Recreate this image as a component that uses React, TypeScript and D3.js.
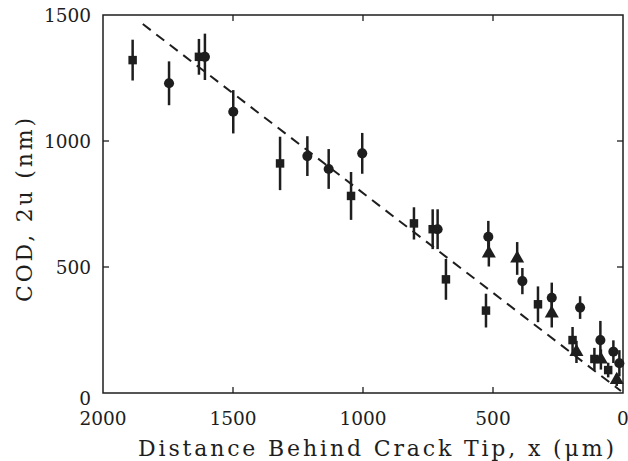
import { useEffect, useRef } from "react";
import * as d3 from "d3";

// [distance (um), COD (nm), error half-height (nm)]
const squares: [number, number, number][] = [
    [1886, 1321, 81],
    [1631, 1334, 71],
    [1319, 911, 106],
    [1046, 782, 95],
    [804, 673, 64],
    [732, 650, 79],
    [681, 451, 81],
    [527, 327, 67],
    [327, 352, 71],
    [194, 210, 52],
    [110, 135, 44],
    [57, 91, 29],
];

const circles: [number, number, number][] = [
    [1746, 1229, 87],
    [1608, 1334, 92],
    [1499, 1116, 86],
    [1214, 940, 79],
    [1132, 889, 79],
    [1003, 951, 81],
    [713, 650, 79],
    [518, 620, 63],
    [387, 444, 52],
    [274, 378, 60],
    [165, 339, 45],
    [87, 210, 76],
    [37, 164, 45],
    [14, 118, 52],
];

const triangles: [number, number, number][] = [
    [516, 554, 52],
    [407, 534, 65],
    [274, 316, 56],
    [179, 163, 44],
    [85, 133, 40],
    [24, 52, 24],
];

const fitLine: [number, number][] = [
    [1847, 1464],
    [8, 8],
];

const xTicks = [2000, 1500, 1000, 500, 0];
const yTicks = [0, 500, 1000, 1500];

const xTitle = "Distance Behind Crack Tip, x (\u03bcm)";
const yTitle = "COD, 2u (nm)";

export default function App() {
    const svgRef = useRef<SVGSVGElement>(null);

    const width = 628;
    const height = 461;
    const left = 103;
    const right = 623;
    const top = 15;
    const bottom = 393;
    const ink = "#1e1e1e";
    const font = "'DejaVu Serif', serif";

    useEffect(() => {
        const svg = d3.select(svgRef.current);
        svg.selectAll("*").remove();

        const x = d3.scaleLinear([2000, 0], [left, right]);
        const y = d3.scaleLinear([0, 1500], [bottom, top]);

        // frame
        svg.append("rect")
            .attr("x", left)
            .attr("y", top)
            .attr("width", right - left)
            .attr("height", bottom - top)
            .attr("fill", "none")
            .attr("stroke", ink)
            .attr("stroke-width", 1.5);

        // inward ticks on all four sides
        const tl = 6;
        const innerX = xTicks.filter((d) => d !== 0 && d !== 2000);
        const innerY = yTicks.filter((d) => d !== 0 && d !== 1500);
        const ticks = svg.append("g").attr("stroke", ink).attr("stroke-width", 1.3);
        ticks.selectAll(".xb")
            .data(innerX)
            .join("line")
            .attr("x1", (d) => x(d))
            .attr("x2", (d) => x(d))
            .attr("y1", bottom)
            .attr("y2", bottom - tl);
        ticks.selectAll(".xt")
            .data(innerX)
            .join("line")
            .attr("x1", (d) => x(d))
            .attr("x2", (d) => x(d))
            .attr("y1", top)
            .attr("y2", top + tl);
        ticks.selectAll(".yl")
            .data(innerY)
            .join("line")
            .attr("x1", left)
            .attr("x2", left + tl)
            .attr("y1", (d) => y(d))
            .attr("y2", (d) => y(d));
        ticks.selectAll(".yr")
            .data(innerY)
            .join("line")
            .attr("x1", right)
            .attr("x2", right - tl)
            .attr("y1", (d) => y(d))
            .attr("y2", (d) => y(d));

        // tick labels
        svg.append("g")
            .selectAll("text")
            .data(xTicks)
            .join("text")
            .attr("x", (d) => x(d))
            .attr("y", bottom + 32)
            .attr("text-anchor", "middle")
            .attr("font-family", font)
            .attr("font-size", 18.5)
            .attr("fill", ink)
            .text((d) => d);

        svg.append("g")
            .selectAll("text")
            .data(yTicks)
            .join("text")
            .attr("x", left - 12)
            .attr("y", (d) => y(d) + (d === 0 ? 12 : 7))
            .attr("text-anchor", "end")
            .attr("font-family", font)
            .attr("font-size", 18.5)
            .attr("fill", ink)
            .text((d) => d);

        // axis titles
        svg.append("text")
            .attr("x", 138)
            .attr("y", 456)
            .attr("text-anchor", "start")
            .attr("font-family", font)
            .attr("font-size", 22)
            .attr("textLength", 476)
            .attr("lengthAdjust", "spacing")
            .attr("fill", ink)
            .text(xTitle);

        svg.append("text")
            .attr("transform", `translate(32,210) rotate(-90)`)
            .attr("text-anchor", "middle")
            .attr("font-family", font)
            .attr("font-size", 22)
            .attr("textLength", 184)
            .attr("lengthAdjust", "spacing")
            .attr("fill", ink)
            .text(yTitle);

        // dashed fit line
        svg.append("path")
            .attr("d", d3.line()(fitLine.map(([a, b]) => [x(a), y(b)])))
            .attr("fill", "none")
            .attr("stroke", ink)
            .attr("stroke-width", 2)
            .attr("stroke-dasharray", "10,7");

        const series = [
            { data: squares, symbol: d3.symbolSquare, size: 72 },
            { data: circles, symbol: d3.symbolCircle, size: 80 },
            { data: triangles, symbol: d3.symbolTriangle, size: 85 },
        ];

        for (const s of series) {
            const g = svg.append("g");
            g.selectAll("line")
                .data(s.data)
                .join("line")
                .attr("x1", (d) => x(d[0]))
                .attr("x2", (d) => x(d[0]))
                .attr("y1", (d) => y(d[1] - d[2]))
                .attr("y2", (d) => y(d[1] + d[2]))
                .attr("stroke", ink)
                .attr("stroke-width", 2.5);
            g.selectAll("path")
                .data(s.data)
                .join("path")
                .attr("transform", (d) => `translate(${x(d[0])},${y(d[1])})`)
                .attr("d", d3.symbol(s.symbol, s.size)())
                .attr("fill", ink);
        }
    }, []);

    return (
        <svg
            ref={svgRef}
            width={width}
            height={height}
            style={{ position: "absolute", left: 0, top: 0, background: "#fff" }}
        ></svg>
    );
}
